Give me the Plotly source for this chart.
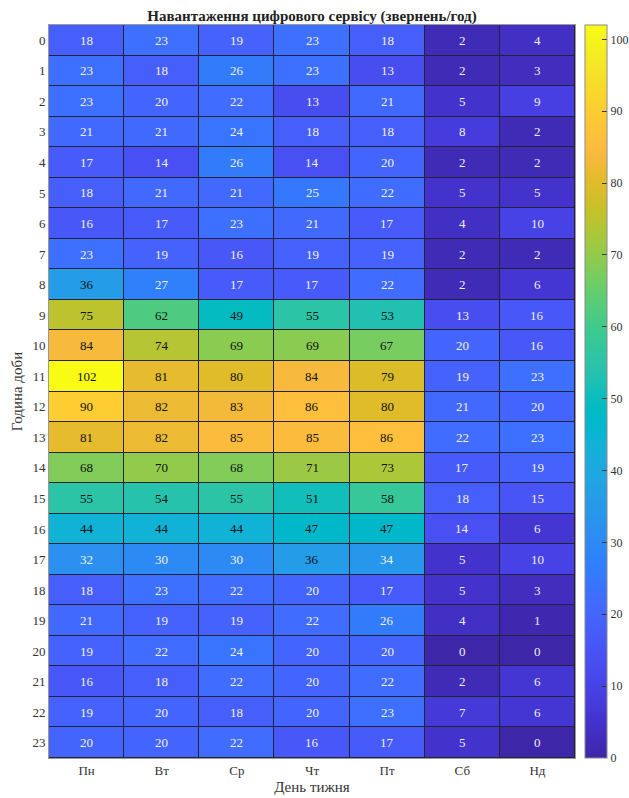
import plotly.graph_objects as go

days = ["Пн", "Вт", "Ср", "Чт", "Пт", "Сб", "Нд"]
hours = list(range(24))
values = [
    [18, 23, 19, 23, 18, 2, 4],
    [23, 18, 26, 23, 13, 2, 3],
    [23, 20, 22, 13, 21, 5, 9],
    [21, 21, 24, 18, 18, 8, 2],
    [17, 14, 26, 14, 20, 2, 2],
    [18, 21, 21, 25, 22, 5, 5],
    [16, 17, 23, 21, 17, 4, 10],
    [23, 19, 16, 19, 19, 2, 2],
    [36, 27, 17, 17, 22, 2, 6],
    [75, 62, 49, 55, 53, 13, 16],
    [84, 74, 69, 69, 67, 20, 16],
    [102, 81, 80, 84, 79, 19, 23],
    [90, 82, 83, 86, 80, 21, 20],
    [81, 82, 85, 85, 86, 22, 23],
    [68, 70, 68, 71, 73, 17, 19],
    [55, 54, 55, 51, 58, 18, 15],
    [44, 44, 44, 47, 47, 14, 6],
    [32, 30, 30, 36, 34, 5, 10],
    [18, 23, 22, 20, 17, 5, 3],
    [21, 19, 19, 22, 26, 4, 1],
    [19, 22, 24, 20, 20, 0, 0],
    [16, 18, 22, 20, 22, 2, 6],
    [19, 20, 18, 20, 23, 7, 6],
    [20, 20, 22, 16, 17, 5, 0],
]
cbar_ticks = [0, 10, 20, 30, 40, 50, 60, 70, 80, 90, 100]

parula = [
    (0.2422, 0.1504, 0.6603), (0.2504, 0.1650, 0.7076), (0.2578, 0.1818, 0.7511),
    (0.2647, 0.1978, 0.7952), (0.2706, 0.2147, 0.8364), (0.2751, 0.2342, 0.8710),
    (0.2783, 0.2559, 0.8991), (0.2803, 0.2782, 0.9221), (0.2813, 0.3006, 0.9414),
    (0.2810, 0.3228, 0.9579), (0.2795, 0.3447, 0.9717), (0.2760, 0.3667, 0.9829),
    (0.2699, 0.3892, 0.9906), (0.2602, 0.4123, 0.9952), (0.2440, 0.4358, 0.9988),
    (0.2206, 0.4603, 0.9973), (0.1963, 0.4847, 0.9892), (0.1834, 0.5074, 0.9798),
    (0.1786, 0.5289, 0.9682), (0.1764, 0.5499, 0.9520), (0.1687, 0.5703, 0.9359),
    (0.1540, 0.5902, 0.9218), (0.1460, 0.6091, 0.9079), (0.1380, 0.6276, 0.8973),
    (0.1248, 0.6459, 0.8883), (0.1113, 0.6635, 0.8763), (0.0952, 0.6798, 0.8598),
    (0.0689, 0.6948, 0.8394), (0.0297, 0.7082, 0.8163), (0.0036, 0.7203, 0.7917),
    (0.0067, 0.7312, 0.7660), (0.0433, 0.7411, 0.7394), (0.0964, 0.7500, 0.7120),
    (0.1408, 0.7584, 0.6842), (0.1717, 0.7670, 0.6554), (0.1938, 0.7758, 0.6251),
    (0.2161, 0.7843, 0.5923), (0.2470, 0.7918, 0.5567), (0.2906, 0.7973, 0.5188),
    (0.3406, 0.8008, 0.4789), (0.3909, 0.8029, 0.4354), (0.4456, 0.8024, 0.3909),
    (0.5044, 0.7993, 0.3480), (0.5616, 0.7942, 0.3045), (0.6174, 0.7876, 0.2612),
    (0.6720, 0.7793, 0.2227), (0.7242, 0.7698, 0.1910), (0.7738, 0.7598, 0.1646),
    (0.8203, 0.7498, 0.1535), (0.8634, 0.7406, 0.1596), (0.9035, 0.7330, 0.1774),
    (0.9393, 0.7288, 0.2100), (0.9728, 0.7298, 0.2394), (0.9956, 0.7434, 0.2371),
    (0.9970, 0.7659, 0.2199), (0.9952, 0.7893, 0.2028), (0.9892, 0.8136, 0.1885),
    (0.9786, 0.8386, 0.1766), (0.9676, 0.8639, 0.1643), (0.9610, 0.8890, 0.1537),
    (0.9597, 0.9135, 0.1423), (0.9628, 0.9373, 0.1265), (0.9691, 0.9606, 0.1064),
    (0.9769, 0.9839, 0.0805),
]
n = len(parula)
colorscale = [[i / (n - 1), "rgb(%d,%d,%d)" % tuple(round(c * 255) for c in rgb)]
              for i, rgb in enumerate(parula)]

font_family = "Liberation Serif, Times New Roman, serif"

fig = go.Figure()
fig.add_trace(go.Heatmap(
    z=values, x=days, y=hours,
    colorscale=colorscale, zmin=0, zmax=102,
    xgap=1, ygap=1,
    showscale=True,
    colorbar=dict(
        x=1.019, xanchor="left", y=0.5, yanchor="middle", len=1.0, lenmode="fraction",
        thickness=22, thicknessmode="pixels",
        outlinecolor="#8a8a8a", outlinewidth=1,
        tickvals=cbar_ticks, ticks="inside", ticklen=5, tickcolor="#333",
        tickfont=dict(family=font_family, size=12, color="#333"),
        xpad=0, ypad=0,
    ),
    hoverinfo="skip",
))

annotations = []
for r, row in enumerate(values):
    for c, v in enumerate(row):
        annotations.append(dict(
            x=days[c], y=hours[r], text=str(v), showarrow=False,
            font=dict(family=font_family, size=13,
                      color="#111111" if v >= 35 else "#f0f0f0"),
        ))

fig.update_layout(
    width=629, height=798,
    margin=dict(l=49, r=54, t=25, b=40, autoexpand=False),
    paper_bgcolor="white",
    plot_bgcolor="#232336",
    annotations=annotations,
    title=dict(text="<b>Навантаження цифрового сервісу (звернень/год)</b>",
               x=0.5, xref="paper", xanchor="center",
               y=1, yref="paper", yanchor="bottom", pad=dict(b=4),
               font=dict(family=font_family, size=15, color="#222")),
    xaxis=dict(
        automargin=False,
        tickfont=dict(family=font_family, size=13, color="#333"),
        title=dict(text="День тижня", font=dict(family=font_family, size=15, color="#333"),
                   standoff=4),
        showgrid=False, zeroline=False, ticks="", showline=True,
        linecolor="#9a9a9a", mirror=True,
    ),
    yaxis=dict(
        automargin=False,
        autorange="reversed",
        tickvals=hours, ticktext=[str(h) for h in hours],
        tickfont=dict(family=font_family, size=13, color="#333"),
        title=dict(text="Година доби", font=dict(family=font_family, size=15, color="#333"),
                   standoff=6),
        showgrid=False, zeroline=False, ticks="", showline=True,
        linecolor="#9a9a9a", mirror=True,
    ),
)

fig.write_html("out.html", config={"displayModeBar": False},
               post_script="document.body.style.margin='0';document.body.style.padding='0';")
